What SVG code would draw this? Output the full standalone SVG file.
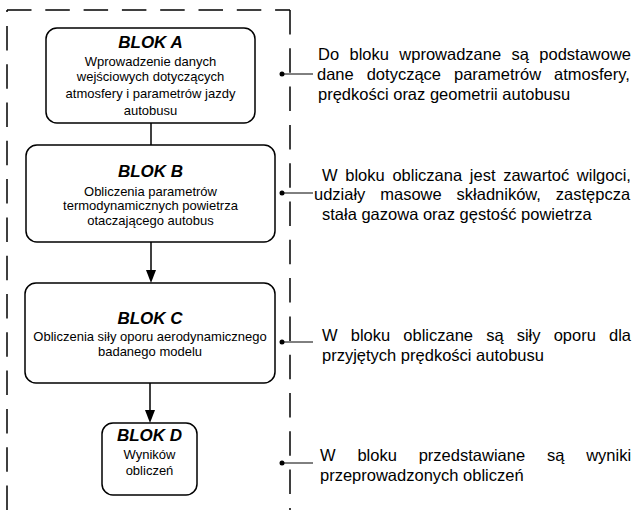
<svg xmlns="http://www.w3.org/2000/svg" width="633" height="510" viewBox="0 0 633 510">
<style>
.box{fill:#fff;stroke:#000;stroke-width:1.5}
.t{font-family:"Liberation Sans",Arial,sans-serif;font-size:13px;fill:#000;text-anchor:middle}
.h{font-family:"Liberation Sans",Arial,sans-serif;font-size:17px;font-weight:bold;font-style:italic;fill:#000;text-anchor:middle}
.r{font-family:"Liberation Sans",Arial,sans-serif;font-size:16.5px;fill:#000}
.frame{fill:none;stroke:#000;stroke-width:1.5;stroke-dasharray:24.5 13.8}
.con{fill:none;stroke:#000;stroke-width:1.5}
.lead{fill:none;stroke:#000;stroke-width:1}
</style>
<defs>
<marker id="arr" markerWidth="10" markerHeight="13" refX="5" refY="13" orient="auto-start-reverse" markerUnits="userSpaceOnUse" viewBox="0 0 10 13">
<path d="M0,0 L10,0 L5,13 Z" fill="#000" transform="rotate(0)"/>
</marker>
</defs>
<g id="frame">
<path class="frame" d="M7,10 H290"/>
<path class="frame" d="M290,10 V510"/>
<path class="frame" d="M7,510 V10"/>
</g>
<g id="connectors">
<path class="con" d="M151,123 V145"/>
<path class="con" d="M151,242 V270"/>
<path d="M146,270 L156,270 L151,283 Z" fill="#000"/>
<path class="con" d="M150,383 V410"/>
<path d="M145,410 L155,410 L150,423 Z" fill="#000"/>
<path class="lead" d="M282,74 H313"/>
<circle cx="282" cy="74" r="2.5"/>
<path class="lead" d="M282,193 H313"/>
<circle cx="282" cy="193" r="2.5"/>
<path class="lead" d="M282,342 H313"/>
<circle cx="282" cy="342" r="2.5"/>
<path class="lead" d="M282,463 H313"/>
<circle cx="282" cy="463" r="2.5"/>
</g>
<g id="blokA">
<rect class="box" x="46" y="28" width="209" height="95" rx="11"/>
<text class="h" x="150.5" y="47.7">BLOK A</text>
<text class="t" x="150.5" y="66.2">Wprowadzenie danych</text>
<text class="t" x="150.5" y="81.2">wejściowych dotyczących</text>
<text class="t" x="150.5" y="97.8">atmosfery i parametrów jazdy</text>
<text class="t" x="150.5" y="114.5">autobusu</text>
</g>
<g id="blokB">
<rect class="box" x="26" y="145" width="249" height="97" rx="11"/>
<text class="h" x="150.5" y="176.8">BLOK B</text>
<text class="t" x="150.5" y="196.2">Obliczenia parametrów</text>
<text class="t" x="150.5" y="210.2">termodynamicznych powietrza</text>
<text class="t" x="150.5" y="224.5">otaczającego autobus</text>
</g>
<g id="blokC">
<rect class="box" x="25" y="283" width="250" height="100" rx="11"/>
<text class="h" x="150" y="324.4">BLOK C</text>
<text class="t" x="150" y="341.2">Obliczenia siły oporu aerodynamicznego</text>
<text class="t" x="150" y="356.2">badanego modelu</text>
</g>
<g id="blokD">
<rect class="box" x="102" y="423" width="95" height="72" rx="11"/>
<text class="h" x="149.5" y="441.1">BLOK D</text>
<text class="t" x="149.5" y="458.5">Wyników</text>
<text class="t" x="149.5" y="475.2">obliczeń</text>
</g>
<g id="opisA">
<text class="r" x="318" y="59.5" word-spacing="5.8">Do bloku wprowadzane są podstawowe</text>
<text class="r" x="317" y="79.5" word-spacing="8.4">dane dotyczące parametrów atmosfery,</text>
<text class="r" x="318" y="99.5">prędkości oraz geometrii autobusu</text>
</g>
<g id="opisB">
<text class="r" x="322" y="180.5" word-spacing="3.1">W bloku obliczana jest zawartoć wilgoci,</text>
<text class="r" x="314" y="200" word-spacing="10.3">udziały masowe składników, zastępcza</text>
<text class="r" x="322" y="220">stała gazowa oraz gęstość powietrza</text>
</g>
<g id="opisC">
<text class="r" x="322" y="340.5" word-spacing="8.55">W bloku obliczane są siły oporu dla</text>
<text class="r" x="322" y="361">przyjętych prędkości autobusu</text>
</g>
<g id="opisD">
<text class="r" x="320" y="460.5" word-spacing="17.25">W bloku przedstawiane są wyniki</text>
<text class="r" x="320" y="481">przeprowadzonych obliczeń</text>
</g>
</svg>
